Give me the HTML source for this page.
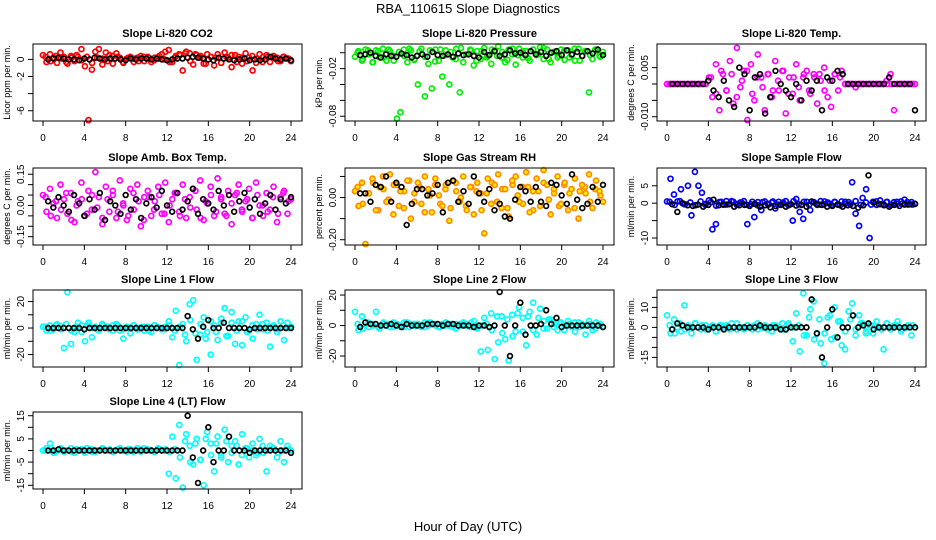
<!DOCTYPE html>
<html><head><meta charset="utf-8"><style>
html,body{margin:0;padding:0;background:#fff;}
svg{display:block;font-family:"Liberation Sans",Arial,sans-serif;}
</style></head><body>
<svg id="chart" width="936" height="540" viewBox="0 0 936 540">
<text x="468" y="13" text-anchor="middle" font-size="13">RBA_110615  Slope Diagnostics</text>
<text x="468" y="531" text-anchor="middle" font-size="13">Hour of Day (UTC)</text>
</svg>
<script>
// ---- data ----
const xTicks = [0,4,8,12,16,20,24];
const titles = ["Slope Li-820 CO2","Slope Li-820 Pressure","Slope Li-820 Temp.","Slope Amb. Box Temp.","Slope Gas Stream RH","Slope Sample Flow","Slope Line 1 Flow","Slope Line 2 Flow","Slope Line 3 Flow","Slope Line 4 (LT) Flow"];
const yTitles = ["Licor ppm per min.","kPa per min.","degrees C per min.","degrees C per min.","percent per min.","ml/min per min.","ml/min per min.","ml/min per min.","ml/min per min.","ml/min per min."];
const yTickVals = [[0,-2,-4,-6],[0,-0.02,-0.04,-0.06,-0.08],[0.005,0,-0.005,-0.01],[0.15,0.1,0.05,0,-0.05,-0.1,-0.15],[0.1,0,-0.1,-0.2],[5,0,-5,-10],[20,10,0,-10,-20],[20,10,0,-10,-20],[15,10,5,0,-5,-10,-15],[15,10,5,0,-5,-10,-15]];
const yTickLabels = [["0","-2","","-6"],["","-0.02","","","-0.08"],["0.005","","","-0.010"],["0.15","","","0.00","","","-0.15"],["","0.00","","-0.20"],["5","0","","-10"],["20","","0","","-20"],["20","","0","","-20"],["","10","","0","","","-15"],["15","","5","","-5","","-15"]];
const yMin = [-7.2,-0.086,-0.0113,-0.19,-0.225,-12,-29.4,-27.2,-19.8,-16.6];
const yMax = [1.8,0.011,0.0122,0.18,0.14,10.1,28.7,23.3,18.7,16.6];
const colors = ["#ff0000","#00ee00","#ff00ff","#ff00ff","#ff8c00","#0000ff","#00ffff","#00ffff","#00ffff","#00ffff"];

const colSeries = [
[0.5,-0.3,0.6,0.2,-0.4,0.8,0.3,-0.5,0.4,-0.2,0.3,1.2,-0.8,-7.1,-1.2,0.9,1.2,-0.6,0.8,0.5,-0.5,0.7,0.2,-0.4,0.1,0.3,-0.3,0.2,0.4,-0.2,0.3,-0.3,0.2,0.1,0.6,0.9,1.1,-0.3,0.4,0.6,-1.3,0.9,0.7,-0.6,0.5,0.2,-0.5,0.6,0.3,-0.7,0.6,-0.4,0.8,0.2,-0.9,0.5,0.3,-0.5,0.7,0.2,-1.3,-0.4,0.6,0.3,0.5,-0.3,0.4,0.2,-0.2,0.3,0.1,-0.2],
[-0.005,0.002,-0.01,0.004,-0.002,-0.012,0.003,-0.006,0.005,-0.01,0.002,-0.004,-0.083,-0.075,0.004,-0.012,0.003,-0.008,-0.04,0.005,-0.055,-0.014,-0.045,0.004,-0.01,-0.03,0.003,-0.04,-0.006,0.005,-0.05,-0.012,-0.002,0.004,-0.016,0.002,-0.008,0.006,-0.004,-0.014,0.003,0.008,-0.006,-0.012,0.004,-0.002,-0.015,0.005,-0.006,0.002,-0.01,0.004,-0.003,0.007,-0.008,0.004,-0.012,0.001,-0.006,0.004,-0.009,0.003,-0.003,-0.01,0.005,-0.004,0.002,-0.05,-0.008,0.003,-0.004,0.001],
[0,0,0,0,0,0,0,0,0,0,0,0,0.002,-0.004,0.006,-0.008,0.003,-0.002,0.007,-0.006,0.011,-0.001,0.004,-0.011,0.006,-0.005,0.009,0.002,-0.008,0.003,-0.004,0.007,-0.002,0.004,-0.009,0.002,-0.003,0.006,-0.005,0.002,0.004,-0.003,0.003,-0.006,0.001,0.005,-0.004,-0.007,0.003,-0.002,0.004,0,0,0,-0.001,0,0,0,0,0,0,0,0,0,0.003,-0.008,0,0,0,0,0,0],
[0.05,-0.03,0.08,0.01,-0.06,0.1,0.03,-0.04,0.06,-0.08,0.02,0.11,-0.05,0.07,-0.02,0.16,0.04,-0.09,0.09,-0.03,0.05,-0.06,0.12,0.0,-0.07,0.08,-0.02,0.1,-0.1,0.04,0.07,-0.05,0.02,0.09,-0.04,0.11,-0.08,0.03,0.06,-0.03,0.1,-0.06,0.04,0.08,-0.02,0.12,-0.07,0.01,0.09,-0.05,0.13,0.03,-0.04,0.07,-0.09,0.05,0.1,-0.03,0.02,0.08,-0.06,0.11,0.0,-0.05,0.06,-0.02,0.09,-0.08,0.04,0.07,-0.04,0.03],
[0.03,-0.04,0.07,-0.22,0.02,0.09,-0.06,0.05,0.1,-0.02,0.11,-0.08,0.06,0.03,-0.05,0.08,-0.1,0.02,0.07,-0.03,0.1,0.04,-0.07,0.09,0.01,-0.04,0.06,-0.11,0.08,0.03,-0.02,0.1,-0.06,0.05,-0.08,0.07,0.02,-0.17,0.09,-0.03,0.06,0.11,-0.05,0.04,-0.09,0.08,0.1,-0.02,0.05,0.12,-0.07,0.03,0.09,-0.04,0.13,0.06,-0.08,0.02,0.1,-0.03,0.07,-0.06,0.04,0.09,-0.1,0.06,0.02,0.11,-0.05,0.08,0.03,-0.02],
[0.5,7,2.5,0.5,4,-0.3,5,-3.5,9,5,3,-0.5,0.8,-7.5,-6,0.3,-0.4,0.6,-0.2,0.4,-0.5,0.2,0.6,-6,-0.3,-4,0.3,-2,0.5,-0.4,0.2,-1.5,0.4,-0.2,0.6,-0.5,-5,1.2,-2.5,-4.5,0.4,-2,0.3,-0.5,0.6,-0.3,0.2,-0.6,0.4,-0.4,0.5,-0.2,0.3,6,-3,-6.5,1.5,4,-10,0.4,-0.5,0.8,-0.3,0.4,-0.6,0.3,-0.2,0.5,1,-0.4,0.3,-0.2],
[1,-2,2,-1,3,1.5,-15,27,-12,-3,4,2,-10,4,-7,1,-2,3,1,-1,2,3,-2,-8,1,-4,2,-1,0.5,-2,1,-3,2,0.5,-1,1,5,-7,13,-28,3,-10,18,21,-24,-5,8,-3,-20,2,-9,4,15,-6,12,-12,5,-13,8,-2,-8,3,10,-1,4,-14,2,-3,5,-9,4,1],
[9,-3,6,2,-1,1,9,-2,1,0,-1,2,1,0,-1,2,1,0,1,-1,2,0,1,0,-1,1,2,0,-1,1,0,2,1,-1,3,-2,-17,5,-16,8,-22,-11,6,-9,-23,7,-4,12,5,-13,9,15,-6,11,3,-2,4,1,-3,2,0,3,-1,-4,2,1,-6,3,-3,2,0,-1],
[6,-3,4,0,-2,11,1,-3,2,0,1,-1,0,1,-2,1,0,1,-1,0,2,0,-1,1,0,1,-1,0,1,0,-2,1,0,2,-1,1,-7,7,-12,17,-4,9,13,-3,-8,-18,5,-6,10,3,-9,-11,8,12,-4,6,2,-2,1,-3,3,0,-11,2,-1,1,3,-2,0,1,-4,0],
[0,1,3,-1,0,1,-0.5,0,1,-1,0,0.5,-1,0,0.5,-0.5,0,1,0,0.5,-0.5,0,1,0,-0.5,0.5,0,1,-0.5,0,0.5,0,-0.5,1,0,0.5,-10,6,-12,11,-16,7,2,-6,5,-4,-15,8,3,-9,6,-2,9,-5,2,4,-6,7,1,-3,3,-2,5,-1,-9,2,1,-3,4,-5,2,0]
];
// dense core of each coloured series (48 values at quarter past each half hour)
const coreSeries = [
[0.3,-0.2,0.4,0.1,-0.3,0.2,0.5,-0.1,0.3,-0.4,0.2,0.1,-0.2,0.4,0.3,-0.3,0.2,0.1,-0.2,0.3,0.2,-0.1,0.4,0.0,-0.3,0.2,0.5,0.7,-0.2,0.6,0.4,-0.5,0.3,0.2,-0.4,0.3,0.5,-0.3,0.2,-0.2,0.4,0.1,-0.3,0.3,0.2,-0.2,0.3,0.1],
[0.0,-0.008,0.003,-0.012,0.002,-0.006,0.004,-0.01,0.001,-0.004,0.005,-0.009,0.002,-0.005,0.003,-0.011,0.004,-0.003,0.001,-0.008,0.006,-0.002,0.003,-0.01,0.002,-0.006,0.004,-0.004,0.001,-0.009,0.005,-0.003,0.002,-0.007,0.004,-0.002,0.006,-0.008,0.001,-0.004,0.003,-0.006,0.005,-0.01,0.002,-0.003,0.004,-0.005],
[0,0,0,0,0,0,0,0,0.002,-0.003,0.004,-0.002,0.003,-0.004,0.001,0.004,-0.003,0.002,-0.001,0.003,-0.002,0.001,0.004,-0.003,0.002,-0.001,0.003,-0.002,0.002,0.003,-0.002,0.001,0.003,0.002,0,0,0,0,0,0,0,0,0.001,0,0,0,0,0],
[0.04,-0.05,0.02,-0.02,0.06,-0.07,0.0,0.03,-0.04,0.05,-0.01,-0.06,0.03,0.07,-0.03,0.01,-0.05,0.06,0.02,-0.07,0.04,-0.02,0.05,-0.04,0.0,0.06,-0.05,0.03,-0.01,0.07,-0.06,0.02,0.05,-0.03,0.04,-0.05,0.01,0.06,-0.02,0.03,-0.06,0.05,0.0,-0.03,0.04,-0.04,0.06,0.02],
[0.05,-0.03,0.02,0.07,-0.06,0.04,-0.01,0.06,-0.04,0.03,0.08,-0.02,0.05,-0.07,0.01,0.06,-0.03,0.04,-0.05,0.07,0.0,-0.04,0.05,0.03,-0.06,0.02,0.07,-0.02,0.04,-0.05,0.06,0.01,-0.03,0.05,-0.06,0.03,0.07,-0.01,0.04,-0.04,0.06,0.02,-0.05,0.03,0.05,-0.02,0.04,0.01],
[0.4,-0.5,0.6,-0.3,0.2,-0.6,0.5,-0.2,0.3,-0.7,0.4,-0.4,0.6,-0.3,0.1,-0.5,0.4,-0.6,0.3,-0.2,0.5,-0.4,0.2,-0.6,0.6,-0.3,0.4,-0.5,0.2,-0.4,0.5,-0.2,0.3,-0.6,0.4,-0.3,0.6,-0.5,0.2,-0.4,0.5,-0.3,0.3,-0.5,0.4,-0.2,0.3,-0.4],
[1,-2,2,-1,3,-2,1,-3,2,0,-1,2,1,-2,2,-1,0,2,-1,1,-2,2,0,-1,2,-2,1,-5,6,-4,3,-8,5,-3,7,-6,4,-2,5,-3,2,-1,3,-2,1,-1,2,0],
[1,-2,2,0,-1,2,1,-1,0,2,-1,1,0,-1,2,1,-1,0,1,-2,1,0,2,-1,0,1,-3,6,-5,4,-7,8,-4,6,-3,5,-2,4,-1,2,-3,1,2,-1,0,1,-2,1],
[1,-3,2,-1,0,2,-1,1,0,-2,1,0,2,-1,0,1,-1,2,0,-1,1,0,-1,2,0,1,-4,5,-6,4,-3,6,-5,3,-2,4,-1,2,-3,1,0,-1,2,0,1,-1,0,1],
[0,1,-0.5,0.5,0,-0.5,0.5,0,1,-0.5,0,0.5,0,-0.5,0.5,0,0.5,-0.5,0,1,0,-0.5,0.5,0,-0.5,0.5,-3,4,-5,3,-4,5,-2,3,-3,4,-1,2,-2,1,0,-1,2,0,1,-1,0,0.5]
];
const blackSeries = [
[0.0,0.1,0.2,0.1,0.0,0.0,-0.1,0.1,0.0,0.2,0.1,0.0,0.1,0.1,0.0,-0.1,0.1,0.0,0.1,0.1,0.0,0.1,0.0,-0.1,0.0,0.1,0.1,0.2,0.3,0.2,0.1,0.0,-0.1,0.2,0.1,0.0,-0.1,0.0,0.1,-0.1,0.0,-0.1,0.0,0.3,0.1,0.0,0.1,-0.1],
[-0.003,-0.002,0.0,-0.004,-0.006,-0.002,-0.004,-0.005,-0.001,-0.003,-0.006,-0.004,-0.002,-0.005,0.001,-0.003,-0.004,-0.002,-0.005,-0.001,-0.003,-0.002,-0.004,-0.006,0.001,-0.003,0.002,-0.004,-0.002,0.003,-0.001,0.0,-0.003,0.002,-0.002,0.001,-0.004,0.0,0.002,-0.003,0.003,-0.002,0.001,-0.004,0.002,-0.001,0.004,-0.003],
[0,0,0,0,0,0,0,0.001,-0.002,-0.004,0.001,-0.005,-0.007,0.005,0.003,-0.008,0.002,0.003,-0.009,-0.004,0.004,0.0,-0.002,-0.004,0.0,-0.005,0.001,-0.002,0.001,-0.008,0.002,0.001,0.004,0.003,0,0,0,0,0,0,0,0,0.002,0,0,0,0,-0.008],
[0.02,-0.01,0.04,0.0,-0.03,0.05,0.01,-0.05,0.03,-0.02,0.06,-0.07,0.02,0.0,-0.04,0.05,-0.02,0.03,-0.06,0.01,0.04,-0.01,0.07,0.0,-0.03,0.06,-0.02,0.02,0.08,-0.04,0.03,0.01,-0.02,0.07,0.0,0.05,-0.03,0.02,0.06,-0.01,0.03,-0.04,0.01,0.05,-0.02,0.03,0.01,0.04],
[0.02,0.02,-0.02,0.06,0.05,0.1,-0.02,0.07,0.05,-0.13,-0.03,0.04,0.04,0.01,0.02,0.06,-0.07,0.07,0.08,-0.02,0.03,-0.03,0.1,0.02,-0.02,0.04,-0.06,-0.03,-0.09,-0.1,-0.01,0.05,0.03,-0.02,0.05,-0.02,-0.04,0.07,0.06,0.01,-0.03,0.11,-0.01,-0.05,-0.03,0.05,-0.02,0.06],
[-0.3,-2.5,0,-0.6,-0.8,-0.4,-1,-0.5,1,-0.6,-0.4,-0.3,-1,-0.6,-0.5,-0.8,-0.2,-1,-0.6,-1.2,-0.8,-0.5,-1,-0.3,-0.7,-0.5,-1,0.5,-0.3,-0.5,-1,-0.8,-0.4,-1,-0.6,-0.8,-1.3,-0.6,8,0.2,-0.3,-0.6,-1,-0.5,-0.8,-0.4,-0.3,-0.2],
[0,0,0,0,0,0,0,-1,0,0,0,0,0,0,0,0,0,0,0,0,0,0,0,0,0,0,0,9,-1,-8,1,6,0,0,4,0,0,0,0,-1,0,0,0,0,0,0,0,0],
[-1,2,1,1,0,0,1,0,-1,1,0,0,0,1,1,1,0,1,1,0,0,0,-1,0,0,-1,0,22,0,-20,0,15,-6,0,0,1,10,1,5,-1,0,0,0,0,0,0,0,-1],
[-1,2,1,0,0,0,0,-1,0,0,-1,0,0,0,0,0,0,1,0,0,0,-1,-1,0,0,0,0,14,-3,-15,0,9,-5,0,0,6,0,1,2,-1,0,0,0,0,0,0,0,0],
[0,0,0.5,0,0,0,0,0,0,0,0,0,0,0,0,0,0,0,0,0,0,0,0,0,0,0,0,15,-3,-14,0,10,-5,0,0,6,0,0,0,-1,0,0,0,0,0,0,0,-1]
];

// ---- layout ----
const NS = "http://www.w3.org/2000/svg";
const svg = document.getElementById('chart');
const colLeft = [33,345,657], colW = 269;
const rowTop = [44,168,290,412], rowH = 77;
function mk(tag, attrs, parent){const e=document.createElementNS(NS,tag);for(const k in attrs)e.setAttribute(k,attrs[k]);(parent||svg).appendChild(e);return e;}
function fmt(n){return n.toFixed(2);}

titles.forEach((title, p) => {
  const L = colLeft[p%3], T = rowTop[Math.floor(p/3)], R = L+colW, B = T+rowH;
  const g = mk('g',{});
  
  
  const xs = h => L + 10 + h*(colW-21)/24;
  const ys = v => B - (v - yMin[p])/(yMax[p]-yMin[p])*rowH;
  const t = mk('text',{x:(L+R)/2,y:T-7,'text-anchor':'middle','font-size':'11','font-weight':'bold'},g);
  t.textContent = title;
  
  
  const fillC = p===4 ? '#ffee00' : 'none';
  // dense core points
  coreSeries[p].forEach((v,i) => {
    const h = 0.25 + i*0.5;
    const c = mk('circle',{cx:fmt(xs(h)),cy:fmt(ys(v)),r:2.5,fill:fillC,stroke:colors[p],'stroke-width':1.7},g);
    
    
  });
  const cs = colSeries[p];
  cs.forEach((v,i) => {
    const h = i*24/(cs.length-1);
    const c = mk('circle',{cx:fmt(xs(h)),cy:fmt(ys(v)),r:2.5,fill:fillC,stroke:colors[p],'stroke-width':1.7},g);
    
    
  });
  blackSeries[p].forEach((v,i) => {
    const h = 0.5 + i*0.5;
    const c = mk('circle',{cx:fmt(xs(h)),cy:fmt(ys(v)),r:2.4,fill:'none',stroke:'#000','stroke-width':1.7},g);
    
    
  });
  // box
  const box = mk('rect',{x:L,y:T,width:colW,height:rowH,fill:'none',stroke:'#000','stroke-width':1},g);
  
  
  // x axis
  const xa = mk('g',{},g);
  
  
  mk('line',{x1:xs(0),x2:xs(24),y1:B,y2:B,stroke:'#000'},xa);
  xTicks.forEach(h => {
    mk('line',{x1:xs(h),x2:xs(h),y1:B,y2:B+5,stroke:'#000'},xa);
    const tl = mk('text',{x:xs(h),y:B+20,'text-anchor':'middle','font-size':'10'},xa);
    tl.textContent = h;
    
    
  });
  // y axis
  const ya = mk('g',{},g);
  
  
  const tv = yTickVals[p];
  mk('line',{x1:L,x2:L,y1:ys(Math.max(...tv)),y2:ys(Math.min(...tv)),stroke:'#000'},ya);
  tv.forEach((v,i) => {
    const y = ys(v);
    mk('line',{x1:L-5,x2:L,y1:y,y2:y,stroke:'#000'},ya);
    if (yTickLabels[p][i]) {
      const tl = mk('text',{x:0,y:0,'text-anchor':'middle','font-size':'10',transform:`translate(${L-9},${y}) rotate(-90)`},ya);
      tl.textContent = yTickLabels[p][i];
      
      
    }
  });
  const yt = mk('text',{x:0,y:0,'text-anchor':'middle','font-size':'9',transform:`translate(${L-23},${(T+B)/2}) rotate(-90)`},g);
  yt.textContent = yTitles[p];
  
  
});
</script>
</body></html>
